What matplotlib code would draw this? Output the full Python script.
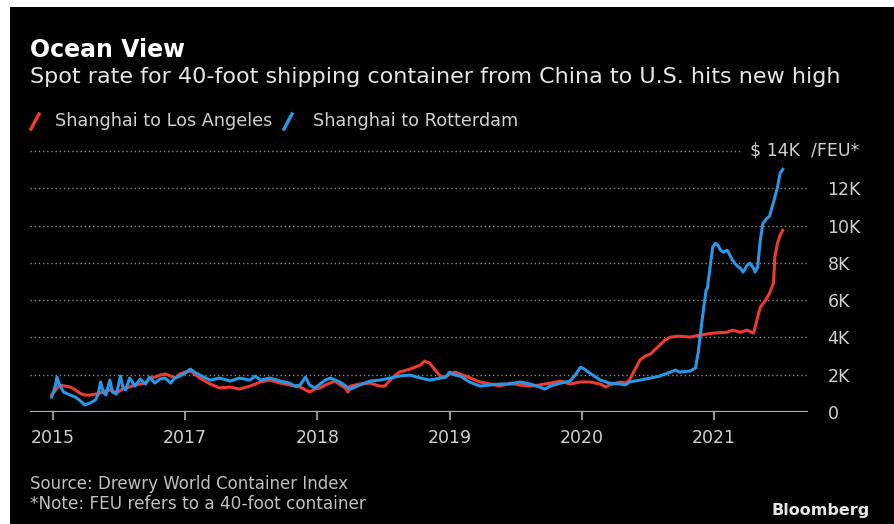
import matplotlib.pyplot as plt
from matplotlib.lines import Line2D
from matplotlib.patches import Rectangle

# decimal-year positions and $/FEU values
la_years = [2015.99, 2016.02, 2016.05, 2016.09, 2016.13, 2016.17, 2016.20, 2016.24, 2016.28, 2016.32,
            2016.36, 2016.39, 2016.43, 2016.47, 2016.49, 2016.54, 2016.58, 2016.62, 2016.66, 2016.70,
            2016.73, 2016.77, 2016.81, 2016.85, 2016.89, 2016.92, 2016.96, 2017.00, 2017.04, 2017.07,
            2017.11, 2017.19, 2017.26, 2017.34, 2017.41, 2017.49, 2017.57, 2017.64, 2017.72, 2017.79,
            2017.87, 2017.94, 2017.98, 2018.02, 2018.06, 2018.13, 2018.21, 2018.23, 2018.25, 2018.32,
            2018.40, 2018.47, 2018.51, 2018.55, 2018.59, 2018.62, 2018.70, 2018.78, 2018.81, 2018.85,
            2018.89, 2018.93, 2018.97, 2019.00, 2019.04, 2019.12, 2019.23, 2019.31, 2019.38, 2019.46,
            2019.53, 2019.61, 2019.68, 2019.76, 2019.84, 2019.91, 2019.99, 2020.06, 2020.14, 2020.18,
            2020.21, 2020.29, 2020.33, 2020.36, 2020.40, 2020.44, 2020.48, 2020.52, 2020.55, 2020.59,
            2020.63, 2020.67, 2020.74, 2020.82, 2020.89, 2020.99, 2021.10, 2021.14, 2021.20, 2021.25,
            2021.30, 2021.33, 2021.35, 2021.39, 2021.42, 2021.45, 2021.46, 2021.48, 2021.50, 2021.52]
la_rate = [910, 1180, 1450, 1390, 1340, 1180, 1020, 910, 910, 960,
           1020, 1120, 1180, 1070, 1070, 1290, 1340, 1450, 1500, 1550,
           1820, 1870, 1980, 2040, 1930, 1820, 2040, 2140, 2200, 2040,
           1820, 1500, 1290, 1340, 1230, 1390, 1610, 1710, 1550, 1450,
           1340, 1070, 1230, 1290, 1450, 1660, 1290, 1070, 1390, 1500,
           1550, 1390, 1390, 1710, 1980, 2140, 2300, 2520, 2730, 2620,
           2250, 1930, 1870, 2040, 2140, 1930, 1610, 1500, 1390, 1550,
           1450, 1390, 1450, 1550, 1660, 1500, 1610, 1610, 1500, 1340,
           1450, 1610, 1550, 1710, 2250, 2790, 3000, 3110, 3320, 3590,
           3860, 4020, 4070, 4020, 4120, 4230, 4280, 4390, 4280, 4390,
           4230, 5090, 5620, 6000, 6370, 6910, 8300, 9050, 9480, 9750]

rot_years = [2015.99, 2016.02, 2016.03, 2016.05, 2016.08, 2016.13, 2016.17, 2016.20, 2016.24, 2016.28,
             2016.32, 2016.34, 2016.36, 2016.38, 2016.40, 2016.43, 2016.45, 2016.48, 2016.51, 2016.53,
             2016.55, 2016.58, 2016.62, 2016.66, 2016.70, 2016.73, 2016.77, 2016.81, 2016.85, 2016.89,
             2016.92, 2016.96, 2017.00, 2017.04, 2017.07, 2017.11, 2017.19, 2017.26, 2017.34, 2017.41,
             2017.49, 2017.53, 2017.57, 2017.64, 2017.72, 2017.79, 2017.83, 2017.87, 2017.91, 2017.94,
             2017.98, 2018.02, 2018.06, 2018.10, 2018.17, 2018.25, 2018.32, 2018.40, 2018.47, 2018.55,
             2018.62, 2018.70, 2018.78, 2018.85, 2018.93, 2018.97, 2019.00, 2019.04, 2019.08, 2019.15,
             2019.23, 2019.31, 2019.38, 2019.46, 2019.53, 2019.61, 2019.68, 2019.72, 2019.76, 2019.84,
             2019.91, 2019.95, 2019.99, 2020.02, 2020.06, 2020.14, 2020.21, 2020.29, 2020.33, 2020.36,
             2020.44, 2020.52, 2020.59, 2020.67, 2020.71, 2020.74, 2020.82, 2020.86, 2020.88, 2020.91,
             2020.94, 2020.95, 2020.99, 2021.01, 2021.03, 2021.05, 2021.07, 2021.10, 2021.12, 2021.14,
             2021.17, 2021.20, 2021.22, 2021.23, 2021.25, 2021.27, 2021.30, 2021.31, 2021.33, 2021.35,
             2021.37, 2021.40, 2021.42, 2021.45, 2021.48, 2021.50, 2021.52]
rot_rate = [800, 1450, 1870, 1450, 1070, 910, 800, 640, 380, 480,
            640, 910, 1610, 1070, 910, 1710, 1070, 960, 1930, 1290,
            1180, 1820, 1390, 1770, 1500, 1870, 1550, 1770, 1820, 1550,
            1820, 1930, 2090, 2300, 2140, 1980, 1710, 1820, 1660, 1820,
            1710, 1930, 1710, 1820, 1660, 1550, 1390, 1450, 1870, 1450,
            1290, 1500, 1710, 1820, 1610, 1230, 1450, 1660, 1710, 1820,
            1930, 1980, 1820, 1710, 1820, 1870, 2140, 1980, 1930, 1610,
            1390, 1450, 1500, 1500, 1610, 1500, 1340, 1230, 1390, 1550,
            1660, 1980, 2410, 2300, 2090, 1710, 1550, 1500, 1450, 1610,
            1710, 1820, 1930, 2140, 2250, 2140, 2200, 2360, 3160, 4930,
            6530, 6640, 8840, 9050, 8940, 8680, 8570, 8680, 8410, 8140,
            7870, 7710, 7500, 7610, 7870, 7980, 7710, 7500, 7770, 9210,
            10120, 10390, 10500, 11250, 12050, 12800, 13020]

tick_pos = [2016, 2017, 2018, 2019, 2020, 2021]
tick_labels = ['2015', '2017', '2018', '2019', '2020', '2021']
y_ticks = [0, 2000, 4000, 6000, 8000, 10000, 12000]
y_labels = ['0', '2K', '4K', '6K', '8K', '10K', '12K']

RED = '#ee3a2f'
BLUE = '#2a97e6'
W, H = 894, 524

def fx(px):
    return px / W

def fy(py):
    return 1 - py / H

fig = plt.figure(figsize=(W / 100, H / 100), dpi=100, facecolor='white')
fig.add_artist(Rectangle((fx(10), 0), 1 - fx(10), fy(7), transform=fig.transFigure,
                         facecolor='black', edgecolor='none', zorder=0))

ax = fig.add_axes([fx(30), fy(412), fx(808) - fx(30), fy(151) - fy(412)])
ax.set_facecolor('none')
for s in ax.spines.values():
    s.set_visible(False)
ax.set_xlim(2015.826, 2021.711)
ax.set_ylim(0, 14000)

# dotted gridlines
for v in y_ticks[1:]:
    ax.axhline(v, color='#8a8a8a', lw=1, ls=(0, (1, 2)), zorder=1)
ax.axhline(14000, xmax=0.913, color='#8a8a8a', lw=1, ls=(0, (1, 2)), zorder=1, clip_on=False)
ax.axhline(0, color='#b0b0b0', lw=1.6, zorder=2)

ax.plot(la_years, la_rate, color=RED, lw=2.2, zorder=3, solid_joinstyle='round')
ax.plot(rot_years, rot_rate, color=BLUE, lw=2.2, zorder=4, solid_joinstyle='round')

ax.set_xticks(tick_pos)
ax.set_xticklabels(tick_labels)
ax.tick_params(axis='x', direction='out', length=6, width=1.2, color='#b0b0b0',
               labelcolor='#d0d0d0', labelsize=12.5, pad=6)
ax.yaxis.tick_right()
ax.set_yticks(y_ticks)
ax.set_yticklabels(y_labels)
ax.tick_params(axis='y', length=0, labelcolor='#d0d0d0', labelsize=12.5, pad=14)
ax.text(0.925, 14000, '\\$ 14K  /FEU*', transform=ax.get_yaxis_transform(),
        color='#d0d0d0', fontsize=12.5, va='center', ha='left')

# header
fig.text(fx(30), fy(50), 'Ocean View', color='white', fontsize=17, fontweight='bold', va='center')
fig.text(fx(30), fy(77), 'Spot rate for 40-foot shipping container from China to U.S. hits new high',
         color='#e6e6e6', fontsize=16, va='center')

# legend
fig.add_artist(Line2D([fx(31), fx(39)], [fy(129), fy(114)], color=RED, lw=2.5))
fig.text(fx(55), fy(121), 'Shanghai to Los Angeles', color='#d0d0d0', fontsize=12.7, va='center')
fig.add_artist(Line2D([fx(284), fx(292)], [fy(129), fy(114)], color=BLUE, lw=2.5))
fig.text(fx(313), fy(121), 'Shanghai to Rotterdam', color='#d0d0d0', fontsize=12.7, va='center')

# footer
fig.text(fx(30), fy(484), 'Source: Drewry World Container Index', color='#c0c0c0', fontsize=12, va='center')
fig.text(fx(30), fy(504), '*Note: FEU refers to a 40-foot container', color='#c0c0c0', fontsize=12.2, va='center')
fig.text(fx(870), fy(511), 'Bloomberg', color='#e6e6e6', fontsize=11.5, fontweight='bold',
         va='center', ha='right')

fig.savefig('out.png', dpi=100, facecolor=fig.get_facecolor())
